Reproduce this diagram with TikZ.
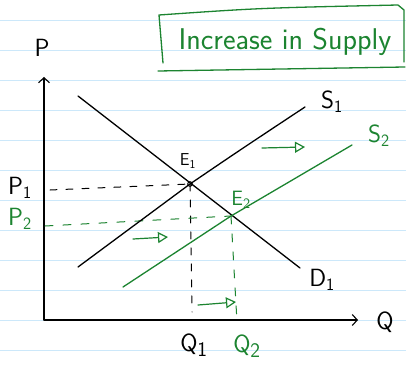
\documentclass[tikz,border=0pt]{standalone}
\usetikzlibrary{arrows.meta}
\definecolor{pen}{RGB}{28,132,48}
\definecolor{ruleblue}{RGB}{204,232,250}
\newcommand{\fs}[1]{\fontsize{#1}{#1}\selectfont}
\newcommand{\lab}[2]{$\mathsf{#1}_{\mathsf{#2}}$}
\begin{document}
\begin{tikzpicture}[x=1pt,y=-1pt,line cap=round,line join=round,
  ruling/.style={ruleblue,line width=0.8pt},
  axisline/.style={black,line width=1.1pt,-{Straight Barb[length=5pt,width=11pt]}},
  curveline/.style={black,line width=1.3pt},
  newcurve/.style={pen,line width=1.3pt},
  guide/.style={black,line width=1pt,dash pattern=on 7pt off 9pt},
  newguide/.style={pen,line width=1pt,dash pattern=on 8pt off 10pt},
  shift arrow/.style={pen,line width=1.2pt,-{Triangle[open,length=10pt,width=11pt,line width=1.2pt]}},
  lbl/.style={inner sep=0pt,black},
  glbl/.style={inner sep=0pt,pen}]
\useasboundingbox (0,0) rectangle (406,366);
\fill[white] (0,0) rectangle (406,366);
\foreach \y in {20,50,...,350} \draw[ruling] (0,\y) -- (406,\y);

% key points
\coordinate (O) at (44,320);
\coordinate (Ytop) at (44,77);
\coordinate (Xend) at (358,320);
\coordinate (E1) at (190,184);
\coordinate (E2) at (231,216);
\coordinate (D1a) at (78,96);
\coordinate (D1b) at (300,268);
\coordinate (S1a) at (78,267);
\coordinate (S1b) at (305,107);
\coordinate (S2a) at (123,287);
\coordinate (S2b) at (352,145);
\coordinate (P1s) at (50,190);
\coordinate (Q1e) at (192,312);
\coordinate (P2s) at (45,226);
\coordinate (Q2e) at (237,322);
\coordinate (A1s) at (262,148);
\coordinate (A1e) at (305,147);
\coordinate (A2s) at (133,239);
\coordinate (A2e) at (168,237);
\coordinate (A3s) at (198,305);
\coordinate (A3e) at (236,302);

% axes
\draw[axisline] (O) -- (Ytop);
\draw[axisline] (O) -- (Xend);

% guides
\draw[guide] (P1s) -- (E1);
\draw[guide] (E1) -- (Q1e);
\draw[newguide] (P2s) -- (E2);
\draw[newguide] (E2) -- (Q2e);

% curves
\draw[curveline] (D1a) -- (D1b);
\draw[curveline] (S1a) -- (E1) .. controls (240,150) .. (S1b);
\draw[newcurve] (S2a) -- (E2) -- (S2b);
\draw[black,line width=1pt] (E1) circle (2.3);

% shift arrows
\draw[shift arrow] (A1s) -- (A1e);
\draw[shift arrow] (A2s) -- (A2e);
\draw[shift arrow] (A3s) -- (A3e);

% labels
\node[lbl,font=\fs{36}] (P) at (42,48) {$\mathsf{P}$};
\node[lbl,font=\fs{36}] (Q) at (385,322) {$\mathsf{Q}$};
\node[lbl,font=\fs{25}] (S1) at (332,102) {\lab{S}{1}};
\node[lbl,font=\fs{27}] (D1) at (322,280) {\lab{D}{1}};
\node[glbl,font=\fs{27}] (S2) at (379,136) {\lab{S}{2}};
\node[lbl,font=\fs{18}] (E1l) at (188,161) {\lab{E}{1}};
\node[glbl,font=\fs{21}] (E2l) at (241,200) {\lab{E}{2}};
\node[lbl,font=\fs{23}] (P1) at (20,188) {\lab{P}{1}};
\node[glbl,font=\fs{23}] (P2) at (20,219) {\lab{P}{2}};
\node[lbl,font=\fs{28}] (Q1) at (194,345) {\lab{Q}{1}};
\node[glbl,font=\fs{28}] (Q2) at (247,346) {\lab{Q}{2}};

% title
\node[glbl,font=\fs{30}] (title) at (285,42) {\textsf{Increase in Supply}};
\draw[pen,line width=1.3pt] (163,63) -- (159,15) .. controls (260,8) .. (398,5) -- (404,10) -- (404,62);
\draw[pen,line width=1.3pt] (158,71) -- (405,67);
\end{tikzpicture}
\end{document}
